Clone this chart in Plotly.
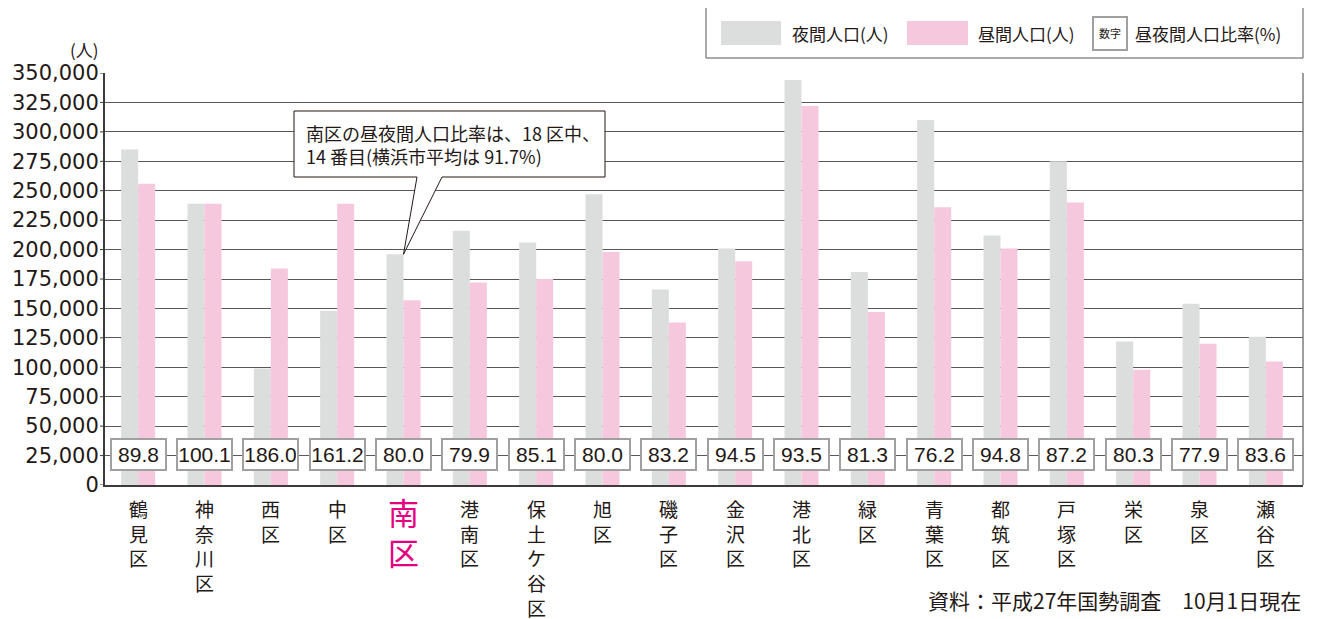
import plotly.graph_objects as go

wards = ["鶴見区", "神奈川区", "西区", "中区", "南区", "港南区", "保土ケ谷区", "旭区", "磯子区",
         "金沢区", "港北区", "緑区", "青葉区", "都筑区", "戸塚区", "栄区", "泉区", "瀬谷区"]
night_pop = [285000, 239000, 99000, 148000, 196000, 216000, 206000, 247000, 166000,
             201000, 344000, 181000, 310000, 212000, 275000, 122000, 154000, 126000]
day_pop = [256000, 239000, 184000, 239000, 157000, 172000, 175000, 198000, 138000,
           190000, 322000, 147000, 236000, 201000, 240000, 98000, 120000, 105000]
ratio = ["89.8", "100.1", "186.0", "161.2", "80.0", "79.9", "85.1", "80.0", "83.2",
         "94.5", "93.5", "81.3", "76.2", "94.8", "87.2", "80.3", "77.9", "83.6"]
y_ticks = list(range(0, 350001, 25000))
y_tick_text = [f"{v:,}" for v in y_ticks]
highlight = "南区"

# page offset of the figure (browser body margin)
OFF = 8
SW, SH = 1317, 619                 # screen size
W, H = SW - OFF, SH - OFF          # figure size
PL, PR, PT, PB = 105, 1303, 73, 485  # plot area in screen pixels
L, R, T, B = PL - OFF, SW - PR, PT - OFF, SH - PB
PW, PH = PR - PL, PB - PT
XMIN, XMAX = -0.5, 17.56
YMAX = 350000

JP = "Noto Sans CJK JP"
TXT = "#231815"
GRAY = "#dcdddd"
PINK = "#f5c8dd"
BOXLINE = "#a0a0a0"
AXIS = "#3e3a39"


def px(x):
    return (x - PL) / PW


def py(y):
    return (PB - y) / PH


def dx(x):
    return (x - PL) / PW * (XMAX - XMIN) + XMIN


def dy(y):
    return (PB - y) / PH * YMAX


idx = list(range(len(wards)))

fig = go.Figure()
fig.add_trace(go.Bar(x=idx, y=night_pop, name="夜間人口(人)", marker_color=GRAY,
                     marker_line_width=0, showlegend=False))
fig.add_trace(go.Bar(x=idx, y=day_pop, name="昼間人口(人)", marker_color=PINK,
                     marker_line_width=0, showlegend=False))

ann = []
# ratio boxes
for i, r in enumerate(ratio):
    ann.append(dict(x=i, y=dy(454), xref="x", yref="y", text=r, showarrow=False,
                    font=dict(family="Liberation Sans", size=21, color=TXT),
                    bgcolor="white", bordercolor=BOXLINE, borderwidth=2, borderpad=1,
                    width=51, height=27, xanchor="center", yanchor="middle"))
# x labels (vertical text)
for i, w in enumerate(wards):
    if w == highlight:
        ann.append(dict(x=i, y=0, xref="x", yref="paper", yanchor="top", yshift=-2,
                        text="<br>".join(w), showarrow=False,
                        font=dict(family=JP, size=31, color="#e4007f")))
    else:
        ann.append(dict(x=i, y=0, xref="x", yref="paper", yanchor="top", yshift=-8,
                        text="<br>".join(w), showarrow=False,
                        font=dict(family=JP, size=19, color=TXT)))

# unit label
ann.append(dict(x=px(84), y=py(49), xref="paper", yref="paper", text="(人)",
                xanchor="center", yanchor="middle",
                showarrow=False, font=dict(family=JP, size=17, color=TXT)))

# legend texts
for xx, t, sz in [(790, "夜間人口(人)", 17), (976, "昼間人口(人)", 17),
                  (1133, "昼夜間人口比率(%)", 17)]:
    ann.append(dict(x=px(xx), y=py(33), xref="paper", yref="paper", text=t,
                    xanchor="left", yanchor="middle", showarrow=False,
                    font=dict(family=JP, size=sz, color=TXT)))
ann.append(dict(x=px(1110), y=py(33), xref="paper", yref="paper", text="数字",
                xanchor="center", yanchor="middle",
                showarrow=False, font=dict(family=JP, size=11, color=TXT)))

# callout text
ann.append(dict(x=dx(304), y=dy(144), xref="x", yref="y", xanchor="left", yanchor="middle",
                align="left", showarrow=False,
                text="南区の昼夜間人口比率は、18 区中、<br>14 番目(横浜市平均は 91.7%)",
                font=dict(family=JP, size=18, color=TXT)))

# source
ann.append(dict(x=px(1303), y=py(600), xref="paper", yref="paper", xanchor="right",
                yanchor="middle",
                text="資料：平成27年国勢調査　10月1日現在", showarrow=False,
                font=dict(family=JP, size=21, color=TXT)))

shapes = []
# small outside tick marks on the value axis
for v in y_ticks:
    shapes.append(dict(type="line", xref="paper", yref="y", x0=px(100), x1=px(105),
                       y0=v, y1=v, line=dict(color=AXIS, width=1)))
# legend frame
shapes.append(dict(type="rect", xref="paper", yref="paper", x0=px(706), x1=px(1303),
                   y0=py(58), y1=py(5), line=dict(color="#595757", width=1),
                   fillcolor="white"))
shapes.append(dict(type="rect", xref="paper", yref="paper", x0=px(721), x1=px(781),
                   y0=py(45), y1=py(21), line=dict(width=0), fillcolor=GRAY))
shapes.append(dict(type="rect", xref="paper", yref="paper", x0=px(907), x1=px(968),
                   y0=py(45), y1=py(21), line=dict(width=0), fillcolor=PINK))
shapes.append(dict(type="rect", xref="paper", yref="paper", x0=px(1093), x1=px(1127),
                   y0=py(50), y1=py(17), line=dict(color=BOXLINE, width=2),
                   fillcolor="white"))
# right border of the plot
shapes.append(dict(type="line", xref="paper", yref="paper", x0=1, x1=1, y0=0, y1=1,
                   line=dict(color="#7d7d7d", width=1.5)))
# callout bubble
mi = wards.index(highlight)
bx0, bx1 = dx(294), dx(605)
by0, by1 = dy(177), dy(111)
b1, b2 = dx(417), dx(442)
tipx, tipy = mi, night_pop[mi]
path = (f"M {bx0},{by0} L {b1},{by0} L {tipx},{tipy} L {b2},{by0} L {bx1},{by0} "
        f"L {bx1},{by1} L {bx0},{by1} Z")
shapes.append(dict(type="path", xref="x", yref="y", path=path, fillcolor="white",
                   line=dict(color="#231815", width=1), layer="above"))

fig.update_layout(
    width=W, height=H, autosize=False,
    margin=dict(l=L, r=R, t=T, b=B, pad=0, autoexpand=False),
    paper_bgcolor="white", plot_bgcolor="white",
    barmode="group", bargap=0.487, bargroupgap=0,
    annotations=ann, shapes=shapes,
    showlegend=False,
    xaxis=dict(range=[XMIN, XMAX], showticklabels=False, ticks="", showgrid=False,
               zeroline=False, showline=True, linecolor=AXIS, linewidth=2,
               fixedrange=True, automargin=False),
    yaxis=dict(range=[0, YMAX], tickvals=y_ticks, ticktext=y_tick_text,
               tickfont=dict(family="DejaVu Sans", size=21, color=TXT),
               ticks="", ticklabelstandoff=0,
               showgrid=True, gridcolor="#595757", gridwidth=1,
               zeroline=False, showline=True, linecolor=AXIS, linewidth=2,
               fixedrange=True, automargin=False),
)

fig.write_html("out.html")
